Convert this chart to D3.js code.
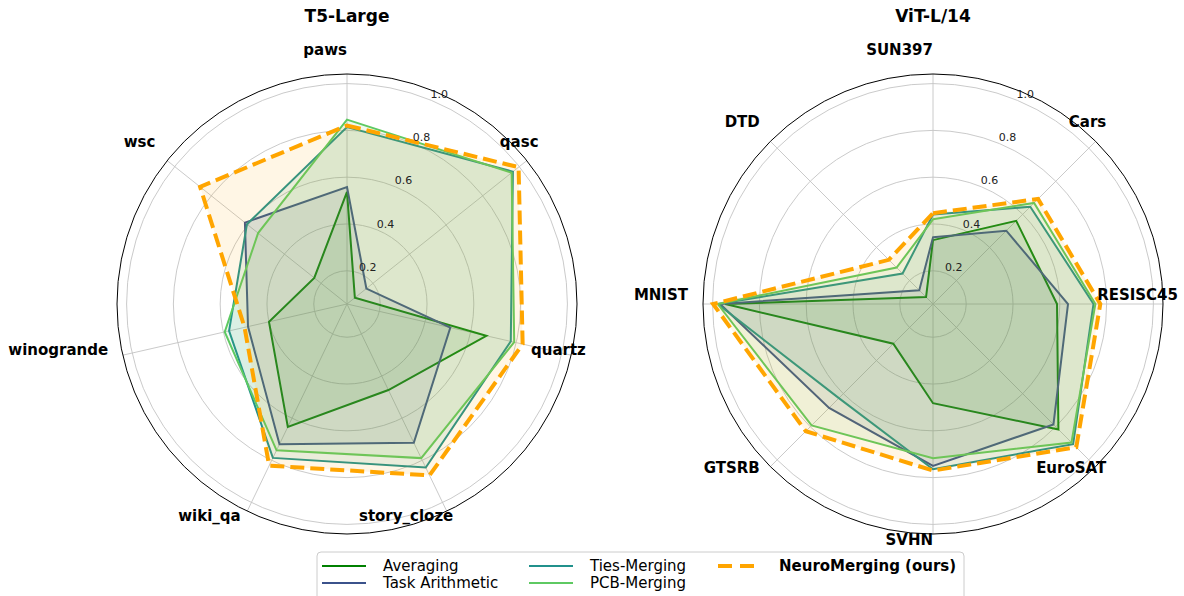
<!DOCTYPE html>
<html>
  <head>
    <meta charset="utf-8">
    <title>Radar charts</title>
    <script src="https://cdnjs.cloudflare.com/ajax/libs/d3/7.8.5/d3.min.js"></script>
    <style>
      body { margin: 0; background: #fff; }
      text { font-family: "DejaVu Sans", sans-serif; }
    </style>
  </head>

  <body>
    <div id="vis"></div>
    <script>
      // T5-Large
      var cats1 = ["paws", "qasc", "quartz", "story_cloze", "wiki_qa", "winogrande", "wsc"];
      var avg1  = [0.537, 0.101, 0.669, 0.466, 0.641, 0.400, 0.237];
      var ta1   = [0.558, 0.164, 0.511, 0.716, 0.723, 0.492, 0.616];
      var ties1 = [0.814, 0.965, 0.776, 0.834, 0.788, 0.575, 0.605];
      var pcb1  = [0.846, 0.958, 0.791, 0.789, 0.752, 0.594, 0.544];
      var nm1   = [0.821, 0.996, 0.828, 0.871, 0.825, 0.507, 0.861];

      // ViT-L/14
      var cats2 = ["SUN397", "Cars", "RESISC45", "EuroSAT", "SVHN", "GTSRB", "MNIST", "DTD"];
      var avg2  = [0.331, 0.561, 0.588, 0.816, 0.482, 0.298, 0.946, 0.100];
      var ta2   = [0.343, 0.501, 0.635, 0.786, 0.750, 0.686, 0.968, 0.141];
      var ties2 = [0.440, 0.646, 0.744, 0.905, 0.764, 0.627, 0.978, 0.242];
      var pcb2  = [0.420, 0.669, 0.752, 0.895, 0.717, 0.792, 0.978, 0.278];
      var nm2   = [0.446, 0.693, 0.773, 0.924, 0.770, 0.827, 0.998, 0.325];

      var names  = ["Averaging", "Task Arithmetic", "Ties-Merging", "PCB-Merging", "NeuroMerging (ours)"];
      var colors = ["#008000", "#3b528b", "#21918c", "#5ec962", "#ffa500"];

      var ticks = [0.2, 0.4, 0.6, 0.8, 1.0];
      var tickLabels = ["0.2", "0.4", "0.6", "0.8", "1.0"];

      var W = 1184, H = 596, R = 230;

      var svg = d3.select("#vis").append("svg")
        .attr("width", W)
        .attr("height", H);

      svg.append("rect").attr("width", W).attr("height", H).attr("fill", "#fff");

      var r = d3.scaleLinear().domain([0.058, 1.041]).range([0, R]);

      function radar(cx, cy, title, cats, series) {
        var n = cats.length;
        var a = d3.scaleLinear().domain([0, n]).range([0, 2 * Math.PI]);
        var g = svg.append("g").attr("transform", "translate(" + cx + "," + cy + ")");

        // grid circles
        g.selectAll("circle.grid").data(ticks).enter()
          .append("circle")
          .attr("class", "grid")
          .attr("r", function (d) { return r(d); })
          .attr("fill", "none")
          .attr("stroke", "#c4c4c4")
          .attr("stroke-width", 0.9);

        // spokes
        g.selectAll("line.spoke").data(cats).enter()
          .append("line")
          .attr("x1", 0).attr("y1", 0)
          .attr("x2", function (d, i) { return R * Math.sin(a(i)); })
          .attr("y2", function (d, i) { return -R * Math.cos(a(i)); })
          .attr("stroke", "#c4c4c4")
          .attr("stroke-width", 0.9);

        // series
        var line = d3.lineRadial()
          .angle(function (d, i) { return a(i); })
          .radius(function (d) { return r(d); })
          .curve(d3.curveLinearClosed);

        series.forEach(function (s, k) {
          g.append("path")
            .attr("d", line(s))
            .attr("fill", colors[k])
            .attr("fill-opacity", 0.1)
            .attr("stroke", "none");
          g.append("path")
            .attr("d", line(s))
            .attr("fill", "none")
            .attr("stroke", colors[k])
            .attr("stroke-width", k === 4 ? 4 : 2)
            .attr("stroke-dasharray", k === 4 ? "14,6" : null)
            .attr("stroke-linejoin", "miter");
        });

        // outer circle
        g.append("circle")
          .attr("r", R)
          .attr("fill", "none")
          .attr("stroke", "#000")
          .attr("stroke-width", 1);

        // radial tick labels
        var ta = Math.PI / 8;
        g.selectAll("text.tick").data(ticks).enter()
          .append("text")
          .attr("class", "tick")
          .attr("x", function (d) { return r(d) * Math.sin(ta) + 8; })
          .attr("y", function (d) { return -r(d) * Math.cos(ta) - 6; })
          .attr("text-anchor", "middle")
          .attr("dominant-baseline", "central")
          .attr("font-size", 11)
          .attr("fill", "#222")
          .text(function (d, i) { return tickLabels[i]; });

        // category labels
        var lr = 245;
        g.selectAll("text.cat").data(cats).enter()
          .append("text")
          .attr("class", "cat")
          .attr("x", function (d, i) { return lr * Math.sin(a(i)); })
          .attr("y", function (d, i) { return -lr * Math.cos(a(i)) - 4; })
          .attr("text-anchor", "end")
          .attr("font-size", 15)
          .attr("font-weight", "bold")
          .attr("fill", "#000")
          .text(function (d) { return d; });

        svg.append("text")
          .attr("x", cx)
          .attr("y", 22)
          .attr("text-anchor", "middle")
          .attr("font-size", 17)
          .attr("font-weight", "bold")
          .text(title);
      }

      radar(347, 304, "T5-Large", cats1, [avg1, ta1, ties1, pcb1, nm1]);
      radar(933, 304, "ViT-L/14", cats2, [avg2, ta2, ties2, pcb2, nm2]);

      //////////////////////////////////////////////////////////
      // legend

      var leg = svg.append("g");
      leg.append("rect")
        .attr("x", 317).attr("y", 552)
        .attr("width", 647).attr("height", 60)
        .attr("rx", 4)
        .attr("fill", "#fff")
        .attr("fill-opacity", 0.8)
        .attr("stroke", "#cccccc");

      var colX = [322, 529, 718], rowY = [566, 583];

      leg.selectAll("line").data(names).enter()
        .append("line")
        .attr("x1", function (d, i) { return colX[Math.floor(i / 2)]; })
        .attr("x2", function (d, i) { return colX[Math.floor(i / 2)] + 44; })
        .attr("y1", function (d, i) { return rowY[i % 2]; })
        .attr("y2", function (d, i) { return rowY[i % 2]; })
        .attr("stroke", function (d, i) { return colors[i]; })
        .attr("stroke-width", function (d, i) { return i === 4 ? 4 : 2; })
        .attr("stroke-dasharray", function (d, i) { return i === 4 ? "14,8" : null; });

      leg.selectAll("text").data(names).enter()
        .append("text")
        .attr("x", function (d, i) { return colX[Math.floor(i / 2)] + 61; })
        .attr("y", function (d, i) { return rowY[i % 2]; })
        .attr("dominant-baseline", "central")
        .attr("font-size", 15)
        .attr("font-weight", function (d, i) { return i === 4 ? "bold" : "normal"; })
        .attr("fill", "#000")
        .text(function (d) { return d; });
    </script>
  </body>
</html>
